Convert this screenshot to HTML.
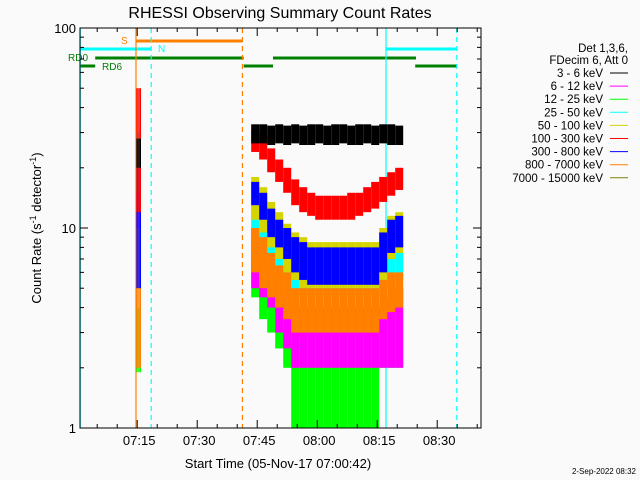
<!DOCTYPE html>
<html><head><meta charset="utf-8">
<style>
html,body{margin:0;padding:0;background:#fafafa;}
svg{display:block;font-family:"Liberation Sans",sans-serif;}
</style></head>
<body>
<svg id="chart" width="640" height="480" viewBox="0 0 640 480">
<rect x="0" y="0" width="640" height="480" fill="#fafafa"/>
<text x="280" y="18" font-size="16" text-anchor="middle" fill="#000">RHESSI Observing Summary Count Rates</text>
<g id="marks"></g>
<g id="axes"></g>
<text x="278" y="468" font-size="13" text-anchor="middle">Start Time (05-Nov-17 07:00:42)</text>
<text transform="translate(41,228) rotate(-90)" font-size="13" text-anchor="middle">Count Rate (s<tspan baseline-shift="super" font-size="9">-1</tspan> detector<tspan baseline-shift="super" font-size="9">-1</tspan>)</text>
<g id="legend"></g>
<text x="636" y="474" font-size="8" text-anchor="end">2-Sep-2022 08:32</text>
</svg>
<script>
// time in minutes past 07:00
const binStarts = [43.5,45.5,47.5,49.5,51.5,53.5,55.5,57.5,59.5,61.5,63.5,65.5,67.5,69.5,71.5,73.5,75.5,77.5,79.5];
const blackLo = [26.5,26.5,26,26.5,26,26.5,26,26,26.5,26,26,26.5,26,26,26.5,26,26.5,26,26];
const blackHi = [33,33,32.5,33,32.5,33,32.5,33,33,32.5,33,33,32.5,33,33,32.5,33,33,32.5];
const redLo = [24,22,19,17,15,13,12,11.5,11,11,11,11,11,11.5,12,12.5,13.5,14.5,15.5];
const redHi = [31,29,25,22,20,17.5,16,15,14.5,14.5,14.5,14.5,15,15,16,17,18,19,20];
const blueLo = [13,11,9,8,7,6,5.5,5.2,5.2,5.2,5.2,5.2,5.2,5.2,5.2,5.2,6,7.5,8];
const blueHi = [17,15,12.5,11,10,9,8.5,8,8,8,8,8,8,8,8,8,9.5,11,11.5];
const cyanLo = [9,8,6.5,6,4.5,4.5,4.5,4.5,4.5,4.5,4.5,4.5,4.5,4.5,4.5,4.5,5,5,5.5];
const cyanHi = [14,12,10,8.5,6.5,6.5,6.5,6.5,6.5,6.5,6.5,6.5,6.5,6.5,6.5,6.5,8,8,8.5];
const yellowLo = [11,9.5,8,7,6,5.5,5,5,5,5,5,5,5,5,5,5,5.5,7,7.5];
const yellowHi = [18,16,13.5,12,10.5,9.5,9,8.5,8.5,8.5,8.5,8.5,8.5,8.5,8.5,8.5,10,11.5,12];
const orangeLo = [6,5,4.5,4,3.5,3,3,3,3,3,3,3,3,3,3,3,3.5,3.8,4];
const orangeHi = [10,9,7.5,6.5,6,5,5,5,5,5,5,5,5,5,5,5,5.5,6,6];
const magentaLo = [5,4.5,4,3,2.5,2,2,2,2,2,2,2,2,2,2,2,2,2,2];
const magentaHi = [10,8,7,6,5,4,4,4,4,4,4,4,4,4,4,4,4,4.5,5];
const greenLo = [4.5,3.5,3,2.5,2,1,1,1,1,1,1,1,1,1,1,1,2,2,2];
const greenHi = [7,6.5,6,5,4.5,4,4,4,4,4,4,4,4,4,4,4,4,4,4];
const binWidth = 2;
// early spike
const spikeTimes = [14.8,15.1,15.4,15.7];
const spikeSeries = ["green","orange","magenta","cyan","blue","red","black"];
const spikeLo = [1.9,2,10,15,5,12,20];
const spikeHi = [4,10,15,30,20,50,28];
const legendLabels = ["3 - 6 keV","6 - 12 keV","12 - 25 keV","25 - 50 keV","50 - 100 keV","100 - 300 keV","300 - 800 keV","800 - 7000 keV","7000 - 15000 keV"];
const legendColors = ["#000000","#ff00ff","#00ff00","#00ffff","#d4d400","#ff0000","#0000ff","#ff8000","#808000"];
const xTickLabels = ["07:15","07:30","07:45","08:00","08:15","08:30"];
const xTickTimes = [15,30,45,60,75,90];

const NS="http://www.w3.org/2000/svg";
const X0=80,X1=481,YT=28,YB=428;
function xs(t){return X0+(t-0.7)*4;}
function ys(v){return YB-200*Math.log10(v);}
function mk(tag,attrs,parent){const e=document.createElementNS(NS,tag);for(const k in attrs)e.setAttribute(k,attrs[k]);parent.appendChild(e);return e;}
const marks=document.getElementById('marks'),axes=document.getElementById('axes'),legend=document.getElementById('legend');
const colorOf={black:"#000000",magenta:"#ff00ff",green:"#00ff00",cyan:"#00ffff",yellow:"#d4d400",red:"#ff0000",blue:"#0000ff",orange:"#ff8000"};

function hbar(t0,t1,y,col,name){const l=mk('line',{x1:xs(t0),x2:xs(t1),y1:y,y2:y,stroke:col,'stroke-width':3},marks);

}
hbar(14.7,41.3,41,"#ff8000","saa-flag-bar");
hbar(0.7,18.5,49,"#00ffff","night-flag-bar");
hbar(77.2,94.9,49,"#00ffff","night-flag-bar-2");
hbar(4.5,41.6,58,"#008000","rd0-bar");
hbar(48.95,84.7,58,"#008000","rd0-bar-2");
hbar(0.7,4.5,66,"#008000","rd6-bar");
hbar(41.6,48.95,66,"#008000","rd6-bar-2");
hbar(84.5,94.9,66,"#008000","rd6-bar-3");
function lbl(x,y,txt,col,name){const t=mk('text',{x:x,y:y,'font-size':10,fill:col},marks);t.textContent=txt;

}
lbl(121,44,"S","#ff8000","saa-label");
lbl(158,52,"N","#00ffff","night-label");
lbl(68,61,"RD0","#008000","rd0-label");
lbl(102,70,"RD6","#008000","rd6-label");

function vline(t,col,dash,name){const l=mk('line',{x1:xs(t),x2:xs(t),y1:YT,y2:YB,stroke:col,'stroke-width':1.2},marks);
if(dash)l.setAttribute('stroke-dasharray','5,4');

}
vline(14.7,"#ff8000",false,"saa-start-line");
vline(41.3,"#ff8000",true,"saa-end-line");
vline(0.75,"#00ffff",false,"night-line-1");
vline(18.5,"#00ffff",true,"night-end-line-1");
vline(77.2,"#00ffff",false,"night-line-2");
vline(94.9,"#00ffff",true,"night-end-line-2");

const seriesOrder=[["green",greenLo,greenHi],["magenta",magentaLo,magentaHi],["cyan",cyanLo,cyanHi],["yellow",yellowLo,yellowHi],["orange",orangeLo,orangeHi],["blue",blueLo,blueHi],["red",redLo,redHi],["black",blackLo,blackHi]];
seriesOrder.forEach(([nm,lo,hi])=>{
  binStarts.forEach((t,i)=>{
    const x=xs(t),w=xs(t+binWidth)-x;
    const y1=ys(hi[i]),y2=ys(lo[i]);
    const r=mk('rect',{x:x,y:y1,width:w,height:Math.max(1,y2-y1),fill:colorOf[nm]},marks);
    
    
  });
});
spikeSeries.forEach((nm,j)=>{
  spikeTimes.forEach((t,i)=>{
    const x=xs(t);
    const r=mk('rect',{x:x,y:ys(spikeHi[j]),width:1,height:ys(spikeLo[j])-ys(spikeHi[j]),fill:colorOf[nm]},marks);
    
    
  });
});

const box=mk('rect',{x:X0,y:YT,width:X1-X0,height:YB-YT,fill:'none',stroke:'#000','stroke-width':1},axes);


for(let t=5;t<=100;t+=5){const x=xs(t);if(x<X0||x>X1)continue;const L=(t%15===0)?8:4;
 mk('line',{x1:x,x2:x,y1:YB,y2:YB-L,stroke:'#000'},axes);
 mk('line',{x1:x,x2:x,y1:YT,y2:YT+L,stroke:'#000'},axes);}
xTickTimes.forEach((t,i)=>{const tx=mk('text',{x:xs(t)+2,y:445,'font-size':13,'text-anchor':'middle'},axes);tx.textContent=xTickLabels[i];

});
for(let d=0;d<2;d++){for(let m=1;m<=9;m++){const v=m*Math.pow(10,d);const y=ys(v);const L=m===1?8:4;
 mk('line',{x1:X0,x2:X0+L,y1:y,y2:y,stroke:'#000'},axes);
 mk('line',{x1:X1,x2:X1-L,y1:y,y2:y,stroke:'#000'},axes);}}
[["1",1],["10",10],["100",100]].forEach(([s,v])=>{const tx=mk('text',{x:76,y:ys(v)+5,'font-size':13,'text-anchor':'end'},axes);tx.textContent=s;

});

const hdr=[["Det 1,3,6,",48],["FDecim 6, Att 0",60]];
hdr.forEach(([s,y])=>{const tx=mk('text',{x:628,y:y+4,'font-size':11.5,'text-anchor':'end'},legend);tx.textContent=s;

});
legendLabels.forEach((s,i)=>{const y=73+i*13.1;
 const tx=mk('text',{x:603,y:y+4,'font-size':11.5,'text-anchor':'end'},legend);tx.textContent=s;
 
 
 const ln=mk('line',{x1:610,x2:628,y1:y,y2:y,stroke:legendColors[i],'stroke-width':1},legend);
 
 });
</script>
</body></html>
